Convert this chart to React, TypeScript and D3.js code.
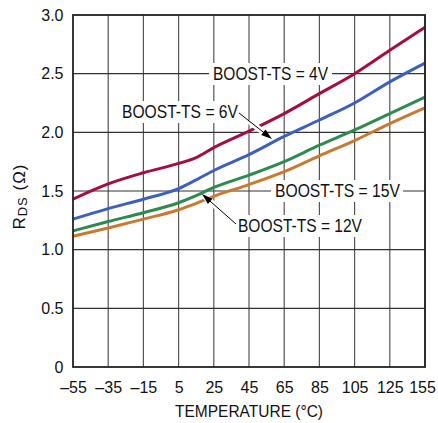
import React from "react";
import * as d3 from "d3";

const temps = [-55, -35, -15, 5, 15, 25, 45, 65, 85, 105, 125, 145];
const rds4V = [1.43, 1.56, 1.655, 1.735, 1.785, 1.87, 2.01, 2.16, 2.33, 2.5, 2.7, 2.895];
const rds6V = [1.26, 1.35, 1.43, 1.52, 1.595, 1.675, 1.81, 1.965, 2.105, 2.25, 2.43, 2.59];
const rds15V = [1.16, 1.24, 1.315, 1.4, 1.46, 1.53, 1.635, 1.75, 1.89, 2.02, 2.16, 2.3];
const rds12V = [1.115, 1.185, 1.26, 1.34, 1.395, 1.455, 1.555, 1.665, 1.8, 1.93, 2.075, 2.21];

const xTickValues = [-55, -35, -15, 5, 25, 45, 65, 85, 105, 125, 145];
const xTickLabels = ["–55", "–35", "–15", "5", "25", "45", "65", "85", "105", "125", "155"];
const yTickValues = [0, 0.5, 1, 1.5, 2, 2.5, 3];
const yTickLabels = ["0", "0.5", "1.0", "1.5", "2.0", "2.5", "3.0"];

const series = [
  { name: "4V", values: rds4V, color: "#a50d3c" },
  { name: "6V", values: rds6V, color: "#3d5fbd" },
  { name: "15V", values: rds15V, color: "#2e8a4e" },
  { name: "12V", values: rds12V, color: "#c97a2e" },
];

const FONT = "'Liberation Sans', Arial, sans-serif";

export default function App() {
  const W = 438, H = 423;
  const L = 73, R = 425, T = 15, B = 367;
  const x = d3.scaleLinear().domain([-55, 145]).range([L, R]);
  const y = d3.scaleLinear().domain([0, 3]).range([B, T]);
  const line = d3
    .line<[number, number]>()
    .x((d) => x(d[0]))
    .y((d) => y(d[1]))
    .curve(d3.curveMonotoneX);

  const labels = [
    { text: "BOOST-TS = 4V", x: 213, y: 74, len: 115, box: [209, 63, 123, 22] },
    { text: "BOOST-TS = 6V", x: 122, y: 112, len: 116, box: [118, 101, 123, 22] },
    { text: "BOOST-TS = 15V", x: 275, y: 191, len: 125, box: [271, 180, 132, 22] },
    { text: "BOOST-TS = 12V", x: 238, y: 226, len: 124, box: [234, 215, 132, 22] },
  ];

  const arrows = [
    { x1: 239, y1: 113, x2: 272, y2: 139, h0: 0.3, h1: 0.78 },
    { x1: 236, y1: 224, x2: 202, y2: 194, h0: 0.4, h1: 0.92 },
  ];

  const head = (a: any) => {
    const dx = a.x2 - a.x1, dy = a.y2 - a.y1;
    const len = Math.hypot(dx, dy);
    const ux = dx / len, uy = dy / len;
    const hl = 11, hw = 3.5;
    const bx = a.x2 - ux * hl, by = a.y2 - uy * hl;
    return `${a.x2},${a.y2} ${bx - uy * hw},${by + ux * hw} ${bx + uy * hw},${by - ux * hw}`;
  };

  return (
    <svg width={W} height={H} style={{ position: "absolute", left: 0, top: 0, background: "#fff" }}>
      <rect width={W} height={H} fill="#fff" />
      {/* gridlines */}
      {xTickValues.slice(1).map((t) => (
        <line key={"gx" + t} x1={x(t)} x2={x(t)} y1={T} y2={B} stroke="#555" strokeWidth={1.2} />
      ))}
      {yTickValues.slice(1, -1).map((t) => (
        <line key={"gy" + t} x1={L} x2={R} y1={y(t)} y2={y(t)} stroke="#333" strokeWidth={1.2} />
      ))}
      {/* label boxes */}
      {labels.map((l) => (
        <rect key={"b" + l.text} x={l.box[0]} y={l.box[1]} width={l.box[2]} height={l.box[3]} fill="#fff" />
      ))}
      {/* curves */}
      {series.map((s) => (
        <path
          key={s.name}
          d={line(temps.map((t, i) => [t, s.values[i]] as [number, number])) || ""}
          fill="none"
          stroke={s.color}
          strokeWidth={3}
          strokeLinejoin="round"
        />
      ))}
      {/* arrows */}
      {arrows.map((a, i) => (
        <g key={"a" + i}>
          <line
            x1={a.x1 + (a.x2 - a.x1) * a.h0}
            y1={a.y1 + (a.y2 - a.y1) * a.h0}
            x2={a.x1 + (a.x2 - a.x1) * a.h1}
            y2={a.y1 + (a.y2 - a.y1) * a.h1}
            stroke="#fff"
            strokeWidth={6}
          />
          <line x1={a.x1} y1={a.y1} x2={a.x2 - (a.x2 - a.x1) * 0.15} y2={a.y2 - (a.y2 - a.y1) * 0.15} stroke="#000" strokeWidth={1} />
          <polygon points={head(a)} fill="#000" />
        </g>
      ))}
      {/* frame */}
      <rect x={L} y={T} width={R - L} height={B - T} fill="none" stroke="#222" strokeWidth={1.8} />
      {/* label text */}
      {labels.map((l) => (
        <text
          key={"t" + l.text}
          x={l.x}
          y={l.y + 6.3}
          fontFamily={FONT}
          fontSize={17.5}
          textLength={l.len}
          lengthAdjust="spacingAndGlyphs"
          fill="#111"
        >
          {l.text}
        </text>
      ))}
      {/* y ticks */}
      {yTickValues.map((t, i) => (
        <text key={"yt" + t} x={63.5} y={y(t) + 5.7} textAnchor="end" fontFamily={FONT} fontSize={16} fill="#111">
          {yTickLabels[i]}
        </text>
      ))}
      {/* x ticks */}
      {xTickValues.map((t, i) => (
        <text
          key={"xt" + t}
          x={x(t) + 0.5}
          dx={i === xTickValues.length - 1 ? -3 : 0}
          y={393}
          textAnchor="middle"
          fontFamily={FONT}
          fontSize={16}
          fill="#111"
        >
          {xTickLabels[i]}
        </text>
      ))}
      {/* x title */}
      <text
        x={(L + R) / 2}
        y={417}
        textAnchor="middle"
        fontFamily={FONT}
        fontSize={16.5}
        textLength={148}
        lengthAdjust="spacingAndGlyphs"
        fill="#111"
      >
        TEMPERATURE (°C)
      </text>
      {/* y title */}
      <text
        transform={`translate(25, 196.5) rotate(-90)`}
        textAnchor="middle"
        fontFamily={FONT}
        fontSize={17}
        letterSpacing={1}
        fill="#111"
      >
        R<tspan fontSize={13} dy={2}>DS</tspan>
        <tspan dy={-2}> (Ω)</tspan>
      </text>
    </svg>
  );
}
